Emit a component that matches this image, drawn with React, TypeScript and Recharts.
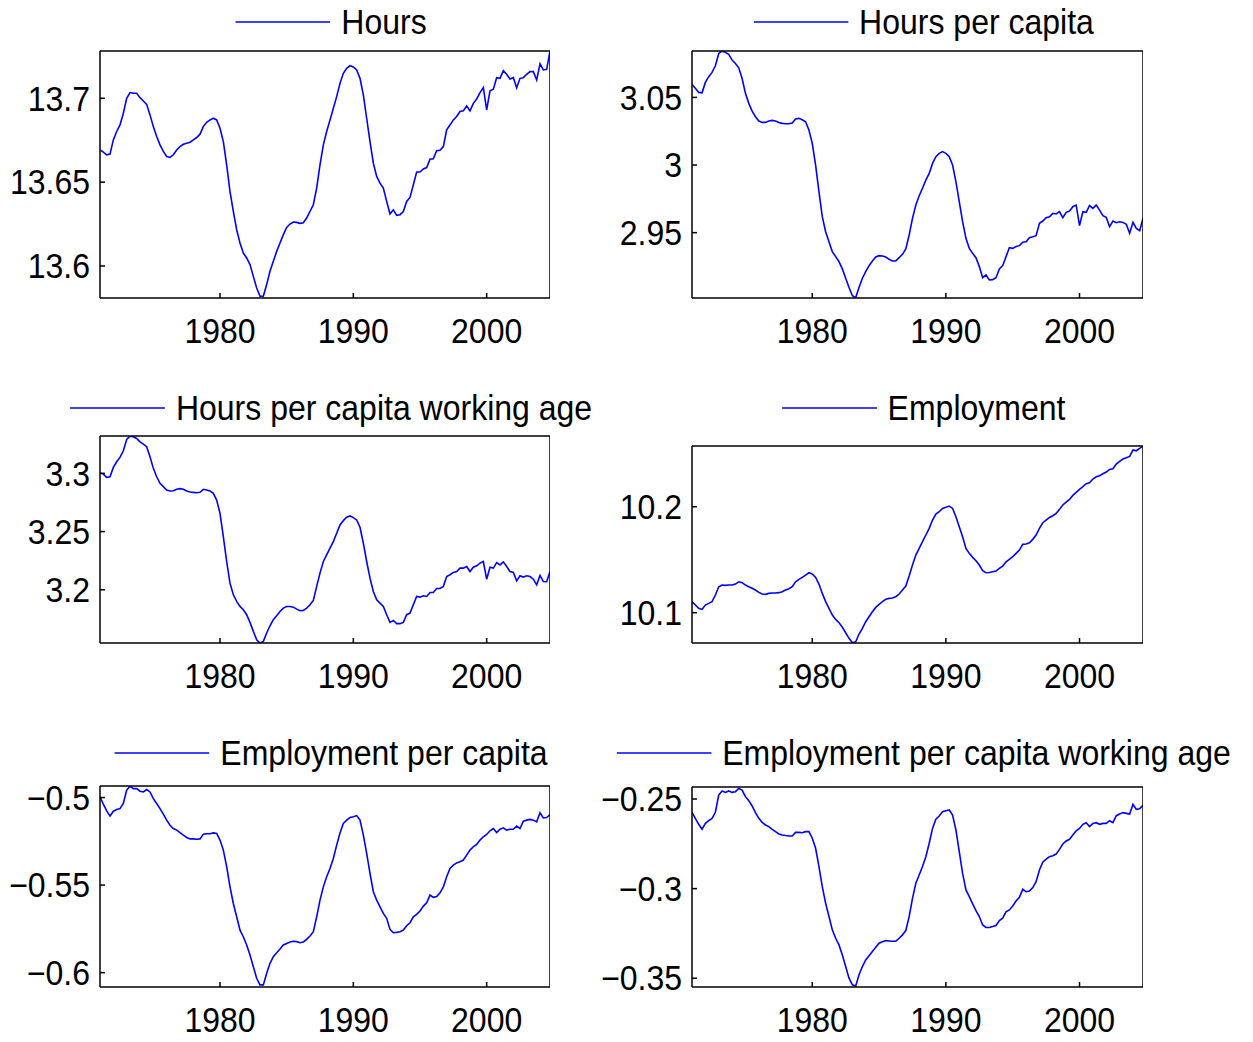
import { LineChart, Line, XAxis, YAxis } from 'recharts';

// Quarterly observations, 1971Q1 .. 2004Q4
const START_YEAR = 1971;
const QUARTER_COUNT = 136;
const quarters = Array.from({ length: QUARTER_COUNT }, (_, i) => START_YEAR + i / 4);
const yearTicks = [1980, 1990, 2000];

const hours = [
  13.6692, 13.6679, 13.6663, 13.6667, 13.6752, 13.6802, 13.6841, 13.6911, 13.7, 13.7034,
  13.703, 13.703, 13.7004, 13.6984, 13.6964, 13.6901, 13.6831, 13.6772, 13.6722, 13.6683,
  13.6653, 13.6647, 13.6663, 13.6692, 13.6712, 13.6726, 13.6732, 13.6738, 13.6752, 13.6766,
  13.6786, 13.6831, 13.6857, 13.6871, 13.6881, 13.6871, 13.6821, 13.6742, 13.6603, 13.6444,
  13.6325, 13.6216, 13.6137, 13.6077, 13.6048, 13.6008, 13.5938, 13.5869, 13.5819, 13.5819,
  13.5889, 13.5968, 13.6028, 13.6087, 13.6137, 13.6187, 13.623, 13.625, 13.6262, 13.626,
  13.6254, 13.6258, 13.6286, 13.6325, 13.6365, 13.6464, 13.6603, 13.6722, 13.6802, 13.6871,
  13.694, 13.701, 13.7089, 13.7149, 13.7179, 13.7194, 13.7187, 13.7169, 13.7119, 13.702,
  13.6881, 13.6742, 13.6613, 13.6534, 13.6494, 13.6464, 13.6385, 13.631, 13.6335, 13.6302,
  13.6306, 13.6325, 13.6385, 13.6409, 13.6484, 13.656, 13.656, 13.6579, 13.6587, 13.6637,
  13.6639, 13.6687, 13.669, 13.6712, 13.6812, 13.6841, 13.6871, 13.6891, 13.6921, 13.6925,
  13.6954, 13.6925, 13.697, 13.6996, 13.7034, 13.7063, 13.6931, 13.7044, 13.7054, 13.7123,
  13.7119, 13.7165, 13.7143, 13.7115, 13.7123, 13.7063, 13.7119, 13.7123, 13.7143, 13.7159,
  13.7159, 13.7109, 13.7206, 13.7169, 13.7173, 13.7282,
];

const hoursPerCapita = [
  3.0596, 3.0567, 3.0537, 3.0534, 3.0611, 3.0653, 3.0685, 3.0734, 3.0825, 3.0842,
  3.0833, 3.0818, 3.0776, 3.0751, 3.0719, 3.064, 3.053, 3.0456, 3.0399, 3.0357,
  3.0325, 3.0315, 3.0315, 3.0325, 3.033, 3.0325, 3.0315, 3.0308, 3.0305, 3.0305,
  3.031, 3.034, 3.0345, 3.0335, 3.032, 3.0259, 3.016, 3.0, 2.9803, 2.9618,
  2.9507, 2.9433, 2.936, 2.9323, 2.9286, 2.9232, 2.9163, 2.9094, 2.9034, 2.902,
  2.9094, 2.9163, 2.9212, 2.9256, 2.9291, 2.932, 2.933, 2.9328, 2.932, 2.9303,
  2.9291, 2.9291, 2.9315, 2.934, 2.9379, 2.9483, 2.9606, 2.9704, 2.9773, 2.9828,
  2.9889, 2.9938, 3.0012, 3.0062, 3.0086, 3.0099, 3.0086, 3.0062, 3.0, 2.9877,
  2.9729, 2.9581, 2.9458, 2.9384, 2.9347, 2.9315, 2.9249, 2.9167, 2.9187, 2.915,
  2.9153, 2.9167, 2.9232, 2.9256, 2.9323, 2.9389, 2.9384, 2.9397, 2.9404, 2.9429,
  2.9433, 2.9463, 2.947, 2.9478, 2.9569, 2.9586, 2.9611, 2.9618, 2.9643, 2.9638,
  2.9655, 2.9611, 2.965, 2.966, 2.9692, 2.9704, 2.9552, 2.9655, 2.965, 2.97,
  2.968, 2.9704, 2.9667, 2.9626, 2.9613, 2.9544, 2.9586, 2.9574, 2.9581, 2.9576,
  2.9562, 2.9495, 2.9576, 2.9532, 2.9515, 2.9606,
];

const hoursPerCapitaWorkingAge = [
  3.3006, 3.2994, 3.2966, 3.2971, 3.3051, 3.31, 3.3137, 3.3194, 3.3291, 3.332,
  3.3314, 3.33, 3.3271, 3.3251, 3.3229, 3.3143, 3.3043, 3.2971, 3.2914, 3.2886,
  3.2857, 3.2849, 3.2851, 3.2863, 3.2869, 3.2863, 3.2849, 3.284, 3.2837, 3.2834,
  3.2837, 3.2863, 3.2857, 3.2849, 3.2829, 3.2771, 3.2657, 3.2457, 3.2243, 3.2057,
  3.1957, 3.19, 3.1857, 3.1829, 3.1786, 3.172, 3.1643, 3.1571, 3.1543, 3.1557,
  3.1629, 3.1691, 3.1743, 3.1777, 3.1814, 3.1843, 3.1857, 3.1857, 3.1851, 3.1834,
  3.182, 3.1823, 3.1843, 3.1871, 3.1909, 3.2029, 3.2143, 3.2243, 3.23, 3.2357,
  3.2414, 3.2486, 3.2557, 3.2594, 3.2623, 3.2634, 3.262, 3.26, 3.2537, 3.24,
  3.2243, 3.21, 3.1986, 3.1914, 3.1886, 3.1857, 3.1786, 3.172, 3.1737, 3.1709,
  3.1709, 3.172, 3.1786, 3.18, 3.1871, 3.1943, 3.1937, 3.1949, 3.1943, 3.1977,
  3.1977, 3.2011, 3.2011, 3.2029, 3.2114, 3.2129, 3.2149, 3.2157, 3.2186, 3.2186,
  3.22, 3.2157, 3.2194, 3.2206, 3.2229, 3.2243, 3.2091, 3.2194, 3.2186, 3.2234,
  3.2214, 3.224, 3.22, 3.2157, 3.2149, 3.2077, 3.212, 3.2109, 3.212, 3.2114,
  3.2091, 3.2043, 3.2123, 3.2071, 3.2069, 3.2157,
];

const employment = [
  10.1104, 10.1072, 10.1041, 10.1031, 10.1072, 10.1088, 10.1104, 10.1167, 10.1245, 10.1261,
  10.1258, 10.1261, 10.1261, 10.127, 10.1292, 10.1283, 10.1261, 10.1245, 10.123, 10.1214,
  10.1192, 10.1176, 10.1173, 10.1182, 10.1186, 10.1186, 10.1189, 10.1198, 10.1214, 10.1226,
  10.1245, 10.1292, 10.1314, 10.1333, 10.1355, 10.1377, 10.1365, 10.1333, 10.127, 10.1182,
  10.1104, 10.1041, 10.0978, 10.0937, 10.0906, 10.0862, 10.0811, 10.0758, 10.0717, 10.0726,
  10.0799, 10.0852, 10.0915, 10.0962, 10.1009, 10.105, 10.1079, 10.1104, 10.1126, 10.1135,
  10.1138, 10.1151, 10.1176, 10.1214, 10.1252, 10.1346, 10.145, 10.1544, 10.1607, 10.167,
  10.1733, 10.1796, 10.1874, 10.1931, 10.1953, 10.1984, 10.1994, 10.2006, 10.1984, 10.1906,
  10.1811, 10.1717, 10.1607, 10.156, 10.1522, 10.1491, 10.145, 10.1396, 10.1377, 10.138,
  10.1387, 10.1393, 10.1418, 10.144, 10.1481, 10.1503, 10.1528, 10.156, 10.1591, 10.1645,
  10.1648, 10.166, 10.1692, 10.1733, 10.1796, 10.1849, 10.1874, 10.1899, 10.1915, 10.1937,
  10.1975, 10.2016, 10.2044, 10.2069, 10.2107, 10.2135, 10.2164, 10.2189, 10.2217, 10.2226,
  10.2261, 10.2283, 10.2292, 10.2311, 10.2327, 10.2352, 10.2358, 10.2403, 10.2428, 10.245,
  10.2462, 10.2475, 10.2535, 10.2528, 10.255, 10.2572,
];

const employmentPerCapita = [
  -0.4996, -0.5038, -0.5076, -0.5106, -0.5078, -0.5068, -0.5063, -0.5034, -0.4958, -0.4935,
  -0.4949, -0.4949, -0.4964, -0.4968, -0.4954, -0.4968, -0.5006, -0.5034, -0.5063, -0.5095,
  -0.5129, -0.5158, -0.5177, -0.5186, -0.52, -0.5215, -0.5228, -0.5236, -0.5236, -0.5238,
  -0.5236, -0.5209, -0.5207, -0.5207, -0.5202, -0.5205, -0.5243, -0.53, -0.5395, -0.551,
  -0.5605, -0.5681, -0.5757, -0.5795, -0.5842, -0.5899, -0.5966, -0.6032, -0.607, -0.607,
  -0.6004, -0.5947, -0.5909, -0.5886, -0.5865, -0.5842, -0.5833, -0.5825, -0.5821, -0.5823,
  -0.5829, -0.5825, -0.581, -0.5791, -0.5766, -0.5681, -0.5586, -0.551, -0.5452, -0.5405,
  -0.5348, -0.5272, -0.5202, -0.5148, -0.5129, -0.5114, -0.511, -0.5103, -0.5129, -0.5215,
  -0.5319, -0.5433, -0.5538, -0.5586, -0.5624, -0.5662, -0.569, -0.5753, -0.5772, -0.577,
  -0.5766, -0.5757, -0.5732, -0.5715, -0.5681, -0.5667, -0.5648, -0.562, -0.5601, -0.5557,
  -0.557, -0.5565, -0.5544, -0.551, -0.5452, -0.5405, -0.5386, -0.5373, -0.5367, -0.5357,
  -0.5329, -0.53, -0.5281, -0.5268, -0.5243, -0.5224, -0.5211, -0.519, -0.5177, -0.52,
  -0.5181, -0.5173, -0.5186, -0.5181, -0.5181, -0.5163, -0.5177, -0.5135, -0.5129, -0.5125,
  -0.5129, -0.5139, -0.5087, -0.5116, -0.5114, -0.5097,
];

const employmentPerCapitaWorkingAge = [
  -0.2574, -0.2608, -0.2641, -0.2669, -0.2636, -0.2621, -0.2608, -0.2574, -0.2478, -0.2455,
  -0.2463, -0.2455, -0.2463, -0.2459, -0.2441, -0.245, -0.2487, -0.2509, -0.2539, -0.2576,
  -0.2608, -0.263, -0.2645, -0.2654, -0.2669, -0.2682, -0.2695, -0.2701, -0.2704, -0.2706,
  -0.2706, -0.2686, -0.2686, -0.2688, -0.2682, -0.2682, -0.2719, -0.2775, -0.2877, -0.2989,
  -0.3082, -0.3156, -0.323, -0.3277, -0.3314, -0.337, -0.3435, -0.35, -0.3537, -0.3543,
  -0.3481, -0.3435, -0.3398, -0.3374, -0.3351, -0.3327, -0.3305, -0.3297, -0.329, -0.3292,
  -0.3294, -0.3294, -0.3277, -0.3258, -0.3234, -0.3156, -0.3054, -0.297, -0.2924, -0.2877,
  -0.2822, -0.2747, -0.2664, -0.2613, -0.2595, -0.2571, -0.2565, -0.2561, -0.2589, -0.2673,
  -0.2794, -0.2915, -0.3007, -0.3045, -0.3085, -0.3123, -0.3156, -0.3203, -0.3217, -0.3217,
  -0.3212, -0.3206, -0.3178, -0.3165, -0.313, -0.3119, -0.3097, -0.3069, -0.3048, -0.3004,
  -0.3017, -0.3013, -0.2994, -0.2961, -0.2896, -0.2853, -0.2836, -0.2822, -0.2816, -0.2807,
  -0.2781, -0.2751, -0.2734, -0.2725, -0.2701, -0.2677, -0.2664, -0.2641, -0.2632, -0.2654,
  -0.2636, -0.2632, -0.2641, -0.2636, -0.2636, -0.2621, -0.2632, -0.2593, -0.2584, -0.2576,
  -0.258, -0.2584, -0.253, -0.2558, -0.2554, -0.2535,
];

const FONT = '"Liberation Sans", Arial, Helvetica, sans-serif';
const BLUE = '#0000ff';
const AXIS_W = 100; // room for y tick labels
const AXIS_H = 60; // room for year labels
const TOP_PAD = 24; // keeps a label sitting on the top edge inside the svg
const TEXT_STRETCH = 1.08; // glyphs a touch taller than plain Arial

type PanelSpec = {
  title: string;
  values: number[];
  domain: [number, number];
  ticks: number[];
  left: number;
  top: number;
  width: number;
  height: number;
  legendY: number;
};

const panels: PanelSpec[] = [
  { title: 'Hours', values: hours, domain: [13.5809, 13.7282], ticks: [13.6, 13.65, 13.7],
    left: 100, top: 51, width: 450, height: 247, legendY: 22 },
  { title: 'Hours per capita', values: hoursPerCapita, domain: [2.9017, 3.0843], ticks: [2.95, 3, 3.05],
    left: 692, top: 51, width: 451, height: 247, legendY: 22 },
  { title: 'Hours per capita working age', values: hoursPerCapitaWorkingAge, domain: [3.1543, 3.3321], ticks: [3.2, 3.25, 3.3],
    left: 100, top: 436, width: 450, height: 207, legendY: 408 },
  { title: 'Employment', values: employment, domain: [10.0714, 10.2573], ticks: [10.1, 10.2],
    left: 692, top: 446, width: 451, height: 197, legendY: 408 },
  { title: 'Employment per capita', values: employmentPerCapita, domain: [-0.6082, -0.4934], ticks: [-0.6, -0.55, -0.5],
    left: 100, top: 786, width: 450, height: 201, legendY: 753 },
  { title: 'Employment per capita working age', values: employmentPerCapitaWorkingAge, domain: [-0.3549, -0.2433], ticks: [-0.35, -0.3, -0.25],
    left: 692, top: 787, width: 451, height: 200, legendY: 753 },
];

const axisStroke = { stroke: '#000', strokeWidth: 1.5 };
const fmt = (v: number) => String(v).replace('-', '\u2212');

function stretch(y: number) {
  return `translate(0 ${y}) scale(1 ${TEXT_STRETCH}) translate(0 ${-y})`;
}

function YearTick({ x, y, payload }: any) {
  return (
    <text x={x} y={y} dy="0.71em" textAnchor="middle" fill="#000" fontSize={32}
      fontFamily={FONT} transform={stretch(y)}>
      {payload.value}
    </text>
  );
}

function ValueTick({ x, y, payload }: any) {
  return (
    <text x={x} y={y} dy="0.355em" textAnchor="end" fill="#000" fontSize={32}
      fontFamily={FONT} transform={stretch(y)}>
      {fmt(payload.value)}
    </text>
  );
}

function Legend({ p }: { p: PanelSpec }) {
  return (
    <div
      style={{
        position: 'absolute',
        left: p.left + p.width / 2 + 6,
        top: p.legendY - 20,
        height: 40,
        transform: 'translateX(-50%)',
        display: 'flex',
        alignItems: 'center',
        whiteSpace: 'nowrap',
        fontFamily: FONT,
        fontSize: 32,
        color: '#000',
      }}
    >
      <svg width={95} height={4} style={{ marginRight: 11 }}>
        <line x1={0} y1={2} x2={95} y2={2} stroke={BLUE} strokeWidth={1.5} />
      </svg>
      <span style={{ display: 'inline-block', transform: `scaleY(${TEXT_STRETCH})` }}>{p.title}</span>
    </div>
  );
}

function Panel({ p }: { p: PanelSpec }) {
  const data = quarters.map((t, i) => ({ t, v: p.values[i] }));
  return (
    <>
      <Legend p={p} />
      <div style={{ position: 'absolute', left: p.left - AXIS_W, top: p.top - TOP_PAD }}>
        <LineChart width={p.width + AXIS_W} height={p.height + AXIS_H + TOP_PAD} data={data}
          margin={{ top: TOP_PAD, right: 0, bottom: 0, left: 0 }}>
          {/* labelled axes: negative tick size turns the marks inward */}
          <XAxis xAxisId="bottom" dataKey="t" type="number" orientation="bottom"
            domain={[START_YEAR, 2004.75]} ticks={yearTicks} allowDataOverflow
            height={AXIS_H} tickSize={-5} tickMargin={25}
            axisLine={axisStroke} tickLine={axisStroke} tick={<YearTick />} />
          <YAxis yAxisId="left" type="number" orientation="left"
            domain={p.domain} ticks={p.ticks} allowDataOverflow
            width={AXIS_W} tickSize={-5} tickMargin={15}
            axisLine={axisStroke} tickLine={axisStroke} tick={<ValueTick />} />
          {/* mirrored top/right axes close the box, ticks only */}
          <XAxis xAxisId="top" dataKey="t" type="number" orientation="top" mirror
            domain={[START_YEAR, 2004.75]} ticks={yearTicks} allowDataOverflow
            height={20} tickSize={5} tick={false}
            axisLine={axisStroke} tickLine={axisStroke} />
          <YAxis yAxisId="right" type="number" orientation="right" mirror
            domain={p.domain} ticks={p.ticks} allowDataOverflow
            width={20} tickSize={5} tick={false}
            axisLine={axisStroke} tickLine={axisStroke} />
          <Line xAxisId="bottom" yAxisId="left" type="linear" dataKey="v"
            stroke={BLUE} strokeWidth={1.6} dot={false} isAnimationActive={false} />
        </LineChart>
      </div>
    </>
  );
}

export default function App() {
  return (
    <div style={{ position: 'absolute', left: 0, top: 0, width: 1253, height: 1042, background: '#fff' }}>
      {panels.map((p) => (
        <Panel key={p.title} p={p} />
      ))}
    </div>
  );
}
